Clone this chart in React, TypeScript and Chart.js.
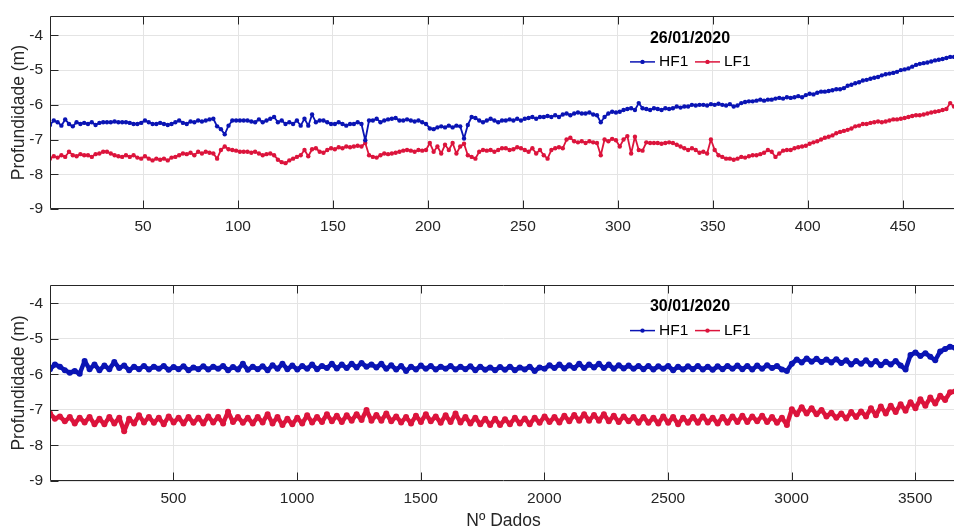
import React, { useEffect, useRef } from "react";
import { Chart, registerables } from "chart.js";

Chart.register(...registerables);

const FONT = '"Liberation Sans", Arial, Helvetica, sans-serif';
Chart.defaults.font.family = FONT;

const SERIES_NAMES = ["HF1", "LF1"];
const SERIES_COLORS = ["#0a14b4", "#dc143c"];
const DATES = ["26/01/2020", "30/01/2020"];
const Y_TITLE = "Profundidade (m)";
const X_TITLE = "Nº Dados";
const Y_TICKS = [-9, -8, -7, -6, -5, -4];
const TOP_X_TICKS = [50, 100, 150, 200, 250, 300, 350, 400, 450];
const BOTTOM_X_TICKS = [500, 1000, 1500, 2000, 2500, 3000, 3500];

// sample spacing (in data index) of the values
const TOP_STEP = 2;
const BOTTOM_STEP = 20;

// 26/01/2020 — values at index 1, 3, 5, ...
const TOP_HF1 = [
  -6.58, -6.45, -6.5, -6.6, -6.42, -6.55, -6.62, -6.5, -6.55, -6.52,
  -6.55, -6.5, -6.58, -6.52, -6.5, -6.5, -6.5, -6.48, -6.5, -6.5,
  -6.5, -6.52, -6.55, -6.55, -6.52, -6.45, -6.5, -6.55, -6.55, -6.52,
  -6.55, -6.58, -6.55, -6.5, -6.45, -6.52, -6.55, -6.48, -6.5, -6.45,
  -6.48, -6.45, -6.42, -6.4, -6.62, -6.7, -6.85, -6.6, -6.45, -6.45,
  -6.45, -6.45, -6.45, -6.48, -6.5, -6.42, -6.5, -6.45, -6.4, -6.35,
  -6.5, -6.45, -6.55, -6.5, -6.55, -6.45, -6.6, -6.4, -6.6, -6.28,
  -6.5, -6.45, -6.45, -6.5, -6.55, -6.55, -6.5, -6.55, -6.6, -6.55,
  -6.55, -6.5, -6.55, -7.02, -6.45, -6.45, -6.4, -6.5, -6.45, -6.42,
  -6.4, -6.38, -6.45, -6.45, -6.42, -6.45, -6.48, -6.45, -6.5, -6.55,
  -6.68, -6.7, -6.65, -6.62, -6.65, -6.6, -6.65, -6.6, -6.62, -6.97,
  -6.58, -6.35, -6.38, -6.45, -6.5, -6.45, -6.4, -6.45, -6.5, -6.45,
  -6.45, -6.42, -6.45, -6.4, -6.45, -6.4, -6.38, -6.35, -6.4, -6.35,
  -6.35, -6.32, -6.35, -6.3, -6.35, -6.28, -6.25, -6.3, -6.25, -6.22,
  -6.25, -6.25, -6.22, -6.28, -6.3, -6.5, -6.35, -6.25, -6.2, -6.22,
  -6.2, -6.15, -6.12, -6.1, -6.15, -5.95, -6.1, -6.12, -6.15, -6.1,
  -6.12, -6.15, -6.1, -6.12, -6.1, -6.05, -6.08, -6.05, -6.05, -6.0,
  -6.02, -6.0, -6.0, -6.02, -5.98, -6.0, -5.97, -6.0, -6.02, -5.98,
  -6.05, -6.02, -5.95, -5.92, -5.9, -5.9, -5.88, -5.85, -5.88, -5.85,
  -5.85, -5.82, -5.8, -5.82, -5.78, -5.8, -5.78, -5.75, -5.78, -5.72,
  -5.68, -5.7, -5.65, -5.62, -5.62, -5.6, -5.58, -5.55, -5.55, -5.52,
  -5.45, -5.42, -5.38, -5.35, -5.3, -5.28, -5.25, -5.22, -5.2, -5.15,
  -5.12, -5.1, -5.08, -5.05, -5.0, -4.98, -4.95, -4.9, -4.85, -4.82,
  -4.8, -4.78, -4.75, -4.72, -4.7, -4.68, -4.65, -4.62, -4.62, -4.6,
];

const TOP_LF1 = [
  -7.55, -7.48, -7.52, -7.45, -7.5, -7.35, -7.45, -7.48, -7.42, -7.45,
  -7.45, -7.5, -7.42, -7.4, -7.35, -7.35, -7.4, -7.45, -7.48, -7.5,
  -7.45, -7.5, -7.45, -7.52, -7.55, -7.48, -7.55, -7.6, -7.55, -7.58,
  -7.55, -7.6, -7.52, -7.5, -7.45, -7.4, -7.42, -7.38, -7.45, -7.35,
  -7.4, -7.35, -7.38, -7.4, -7.55, -7.3, -7.2, -7.28, -7.3, -7.32,
  -7.35, -7.35, -7.35, -7.38, -7.35, -7.4, -7.45, -7.42, -7.4, -7.45,
  -7.58, -7.65, -7.68, -7.6, -7.55, -7.5, -7.45, -7.3, -7.48, -7.28,
  -7.25, -7.35, -7.38, -7.3, -7.25, -7.28, -7.22, -7.25, -7.2, -7.22,
  -7.2, -7.18, -7.2, -7.1, -7.45, -7.5, -7.52, -7.45, -7.4, -7.42,
  -7.4, -7.38, -7.35, -7.32, -7.3, -7.32, -7.35, -7.3, -7.32, -7.3,
  -7.1, -7.35, -7.2, -7.4, -7.15, -7.3, -7.1, -7.4, -7.2, -7.12,
  -7.45, -7.5, -7.55, -7.35, -7.3, -7.32, -7.3, -7.35, -7.3, -7.25,
  -7.25, -7.3, -7.28, -7.22, -7.25, -7.3, -7.35, -7.25, -7.4, -7.3,
  -7.45, -7.55, -7.3, -7.25, -7.22, -7.25, -7.0, -6.95, -7.05, -7.08,
  -7.05, -7.1, -7.05, -7.08, -7.1, -7.45, -7.0, -7.05, -6.98, -7.02,
  -7.2, -7.0, -6.9, -7.4, -6.92, -7.3, -7.32, -7.08, -7.1, -7.1,
  -7.1, -7.12, -7.1, -7.08, -7.1, -7.15, -7.2, -7.25, -7.3, -7.25,
  -7.3, -7.38, -7.35, -7.4, -7.0, -7.3, -7.45, -7.5, -7.55, -7.55,
  -7.58, -7.55, -7.5, -7.52, -7.48, -7.45, -7.45, -7.42, -7.38, -7.3,
  -7.35, -7.5, -7.4, -7.32, -7.3, -7.3, -7.25, -7.22, -7.2, -7.18,
  -7.12, -7.08, -7.05, -7.0, -6.95, -6.92, -6.88, -6.82, -6.78, -6.75,
  -6.72, -6.68, -6.62, -6.6, -6.55, -6.55, -6.52, -6.5, -6.48, -6.5,
  -6.48, -6.45, -6.42, -6.42, -6.4, -6.38, -6.35, -6.32, -6.3, -6.3,
  -6.28, -6.25, -6.22, -6.2, -6.18, -6.15, -6.12, -5.95, -6.05, -6.05,
];

// 30/01/2020 — values at index 1, 21, 41, ...
const BOTTOM_HF1 = [
  -5.85, -5.72, -5.78, -5.88, -5.95, -5.9, -5.98, -5.62, -5.85, -5.72,
  -5.88, -5.75, -5.85, -5.65, -5.82, -5.75, -5.88, -5.78, -5.85, -5.76,
  -5.86, -5.78, -5.84, -5.76, -5.87, -5.79, -5.85, -5.77, -5.88, -5.8,
  -5.85, -5.77, -5.86, -5.78, -5.84, -5.76, -5.88, -5.79, -5.86, -5.7,
  -5.87, -5.78, -5.85, -5.77, -5.88, -5.74, -5.84, -5.7, -5.85, -5.75,
  -5.86, -5.76, -5.84, -5.72, -5.85, -5.76, -5.82, -5.7, -5.83, -5.72,
  -5.82, -5.7, -5.8, -5.68, -5.78, -5.72, -5.8, -5.7, -5.84, -5.74,
  -5.86, -5.76, -5.9, -5.78, -5.86, -5.75, -5.84, -5.76, -5.86, -5.78,
  -5.84, -5.76, -5.86, -5.78, -5.85, -5.77, -5.88, -5.78, -5.87, -5.8,
  -5.88, -5.79, -5.87, -5.78, -5.88, -5.8, -5.86, -5.78, -5.9, -5.8,
  -5.84, -5.74, -5.82, -5.72, -5.83, -5.74, -5.82, -5.7, -5.82, -5.72,
  -5.8, -5.7, -5.82, -5.72, -5.84, -5.74, -5.83, -5.75, -5.84, -5.76,
  -5.85, -5.76, -5.86, -5.77, -5.84, -5.76, -5.88, -5.78, -5.86, -5.77,
  -5.85, -5.76, -5.86, -5.78, -5.87, -5.77, -5.85, -5.76, -5.84, -5.75,
  -5.85, -5.76, -5.86, -5.75, -5.84, -5.74, -5.82, -5.76, -5.86, -5.9,
  -5.7, -5.58, -5.66, -5.55, -5.64, -5.56, -5.65, -5.58, -5.66, -5.57,
  -5.68, -5.6, -5.72, -5.62, -5.7, -5.6, -5.72, -5.62, -5.74, -5.64,
  -5.72, -5.62, -5.75, -5.86, -5.45, -5.38, -5.48, -5.4, -5.5, -5.6,
  -5.35, -5.28, -5.22, -5.25,
];

const BOTTOM_LF1 = [
  -7.1, -7.25, -7.18, -7.32, -7.2, -7.38, -7.22, -7.35, -7.2, -7.4,
  -7.25, -7.4, -7.2, -7.38, -7.22, -7.6, -7.25, -7.38, -7.15, -7.35,
  -7.2, -7.36, -7.22, -7.4, -7.18, -7.35, -7.22, -7.38, -7.2, -7.36,
  -7.22, -7.38, -7.18, -7.35, -7.2, -7.38, -7.05, -7.34, -7.2, -7.36,
  -7.22, -7.38, -7.2, -7.35, -7.12, -7.38, -7.2, -7.42, -7.25, -7.4,
  -7.22, -7.38, -7.15, -7.35, -7.2, -7.34, -7.12, -7.32, -7.16, -7.34,
  -7.15, -7.3, -7.12, -7.28, -7.0, -7.3, -7.14, -7.3, -7.1, -7.32,
  -7.18, -7.35, -7.2, -7.38, -7.16, -7.34, -7.12, -7.32, -7.18, -7.36,
  -7.15, -7.34, -7.1, -7.35, -7.2, -7.38, -7.22, -7.4, -7.25, -7.42,
  -7.25, -7.42, -7.26, -7.4, -7.22, -7.38, -7.24, -7.4, -7.22, -7.36,
  -7.18, -7.34, -7.2, -7.35, -7.16, -7.32, -7.14, -7.3, -7.12, -7.3,
  -7.14, -7.3, -7.12, -7.32, -7.16, -7.34, -7.18, -7.32, -7.2, -7.36,
  -7.2, -7.36, -7.22, -7.38, -7.18, -7.36, -7.2, -7.4, -7.22, -7.36,
  -7.2, -7.36, -7.18, -7.35, -7.22, -7.38, -7.2, -7.36, -7.18, -7.34,
  -7.16, -7.34, -7.18, -7.32, -7.16, -7.34, -7.2, -7.36, -7.22, -7.42,
  -6.98, -7.12, -6.92, -7.1, -6.95, -7.12, -7.0, -7.18, -7.08, -7.22,
  -7.1, -7.24, -7.06, -7.2, -7.04, -7.18, -6.95, -7.15, -6.9, -7.1,
  -6.88, -7.06, -6.84, -7.02, -6.78, -6.95, -6.7, -6.88, -6.65, -6.82,
  -6.6, -6.72, -6.5, -6.48,
];

const AXIS_COLOR = "#262626";
const GRID_COLOR = "#e4e4e4";
const TICK_LEN = 8;

type PanelCfg = {
  hf: number[];
  lf: number[];
  step: number;
  xMax: number;
  yMax: number;
  xTicks: number[];
  date: string;
  xTitle?: string;
  padTop: number;
  xAxisH: number;
  lineWidth: number;
  pointRadius: number;
};

function decorPlugin(date: string) {
  return {
    id: "matlabDecor",
    afterDatasetsDraw(chart: any) {
      const { ctx, chartArea: a, scales } = chart;
      ctx.save();
      ctx.strokeStyle = AXIS_COLOR;
      ctx.lineWidth = 1;
      const L = Math.round(a.left) + 0.5;
      const T = Math.round(a.top) + 0.5;
      const B = Math.round(a.bottom) - 0.5;
      const R = Math.round(a.right) - 0.5;
      ctx.beginPath();
      ctx.moveTo(L, T);
      ctx.lineTo(R, T);
      ctx.lineTo(R, B);
      ctx.lineTo(L, B);
      ctx.closePath();
      ctx.stroke();
      ctx.beginPath();
      scales.x.ticks.forEach((t: any) => {
        const px = Math.round(scales.x.getPixelForValue(t.value)) + 0.5;
        ctx.moveTo(px, B);
        ctx.lineTo(px, B - TICK_LEN);
        ctx.moveTo(px, T);
        ctx.lineTo(px, T + TICK_LEN);
      });
      scales.y.ticks.forEach((t: any) => {
        const py = Math.round(scales.y.getPixelForValue(t.value)) + 0.5;
        ctx.moveTo(L, py);
        ctx.lineTo(L + TICK_LEN, py);
      });
      ctx.stroke();
      ctx.restore();
    },
    afterDraw(chart: any) {
      const { ctx, chartArea: a } = chart;
      ctx.save();
      ctx.fillStyle = "#000";
      ctx.textBaseline = "middle";
      ctx.textAlign = "center";
      ctx.font = `bold 16px ${FONT}`;
      ctx.fillText(date, 690, a.top + 21.8);
      const rowY = a.top + 45.6;
      chart.data.datasets.forEach((ds: any, i: number) => {
        const x0 = 630 + i * 65;
        ctx.strokeStyle = ds.borderColor;
        ctx.lineWidth = 1.5;
        ctx.beginPath();
        ctx.moveTo(x0, rowY);
        ctx.lineTo(x0 + 25, rowY);
        ctx.stroke();
        ctx.fillStyle = ds.borderColor;
        ctx.beginPath();
        ctx.arc(x0 + 12.5, rowY, 2.2, 0, Math.PI * 2);
        ctx.fill();
        ctx.fillStyle = "#000";
        ctx.textAlign = "left";
        ctx.font = `15.5px ${FONT}`;
        ctx.fillText(ds.label, x0 + 29, rowY);
      });
      ctx.restore();
    },
  };
}

function makeChart(canvas: HTMLCanvasElement, p: PanelCfg) {
  const pts = (vals: number[]) => vals.map((y, i) => ({ x: 1 + i * p.step, y }));
  const series = [p.hf, p.lf];
  return new Chart(canvas, {
    type: "line",
    data: {
      datasets: series.map((vals, i) => ({
        label: SERIES_NAMES[i],
        data: pts(vals),
        borderColor: SERIES_COLORS[i],
        backgroundColor: SERIES_COLORS[i],
        pointBackgroundColor: SERIES_COLORS[i],
        pointBorderWidth: 0,
        pointRadius: p.pointRadius,
        pointHoverRadius: 0,
        borderWidth: p.lineWidth,
        borderJoinStyle: "round",
        tension: 0,
        fill: false,
      })),
    },
    options: {
      responsive: false,
      animation: false,
      devicePixelRatio: 1,
      events: [],
      layout: { padding: { top: p.padTop, right: 2, left: 0, bottom: 0 } },
      plugins: {
        legend: { display: false },
        tooltip: { enabled: false },
      },
      scales: {
        x: {
          type: "linear",
          min: 1,
          max: p.xMax,
          afterBuildTicks: (s: any) => {
            s.ticks = p.xTicks.map((v) => ({ value: v }));
          },
          afterFit: (s: any) => {
            s.height = p.xAxisH;
          },
          grid: { color: GRID_COLOR, drawTicks: false, lineWidth: 1 },
          border: { display: false },
          ticks: {
            padding: 8,
            color: AXIS_COLOR,
            font: { size: 15.5 },
            maxRotation: 0,
            autoSkip: false,
            callback: (v: any) => String(v),
          },
          title: p.xTitle
            ? {
                display: true,
                text: p.xTitle,
                color: AXIS_COLOR,
                font: { size: 17.5 },
                padding: { top: 0, bottom: 8.5 },
              }
            : { display: false },
        },
        y: {
          type: "linear",
          min: -9,
          max: p.yMax,
          afterBuildTicks: (s: any) => {
            s.ticks = Y_TICKS.map((v) => ({ value: v }));
          },
          afterFit: (s: any) => {
            s.width = 50;
          },
          grid: { color: GRID_COLOR, drawTicks: false, lineWidth: 1 },
          border: { display: false },
          ticks: {
            padding: 7,
            color: AXIS_COLOR,
            font: { size: 15.5 },
            callback: (v: any) => String(v),
          },
          title: {
            display: true,
            text: Y_TITLE,
            color: AXIS_COLOR,
            font: { size: 17.5 },
            padding: { top: 8.5, bottom: 0 },
          },
        },
      },
    },
    plugins: [decorPlugin(p.date)],
  } as any);
}

export default function App() {
  const topRef = useRef<HTMLCanvasElement>(null);
  const botRef = useRef<HTMLCanvasElement>(null);

  useEffect(() => {
    const c1 = makeChart(topRef.current!, {
      hf: TOP_HF1,
      lf: TOP_LF1,
      step: TOP_STEP,
      xMax: 479,
      yMax: -3.45,
      xTicks: TOP_X_TICKS,
      date: DATES[0],
      padTop: 12,
      xAxisH: 31,
      lineWidth: 1.8,
      pointRadius: 2.2,
    });
    const c2 = makeChart(botRef.current!, {
      hf: BOTTOM_HF1,
      lf: BOTTOM_LF1,
      step: BOTTOM_STEP,
      xMax: 3669,
      yMax: -3.48,
      xTicks: BOTTOM_X_TICKS,
      date: DATES[1],
      xTitle: X_TITLE,
      padTop: 45,
      xAxisH: 59,
      lineWidth: 4.5,
      pointRadius: 3,
    });
    return () => {
      c1.destroy();
      c2.destroy();
    };
  }, []);

  return (
    <div
      style={{
        position: "absolute",
        left: 0,
        top: 0,
        width: 954,
        height: 527,
        overflow: "hidden",
        background: "#ffffff",
      }}
    >
      <canvas ref={topRef} width={960} height={240} style={{ position: "absolute", left: 0, top: 0 }} />
      <canvas ref={botRef} width={960} height={300} style={{ position: "absolute", left: 0, top: 240 }} />
    </div>
  );
}
